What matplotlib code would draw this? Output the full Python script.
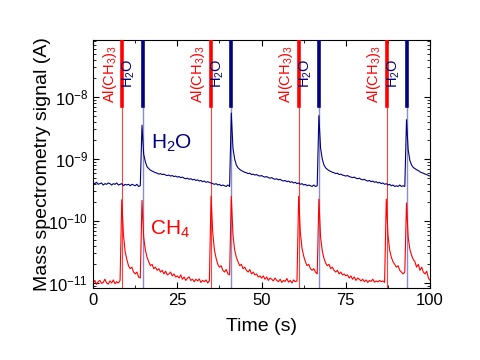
import numpy as np
import matplotlib
matplotlib.use("Agg")
import matplotlib.pyplot as plt
from matplotlib.ticker import MultipleLocator, LogLocator, NullFormatter

plt.rcParams['font.family'] = ['Liberation Sans', 'DejaVu Sans']
plt.rcParams['mathtext.fontset'] = 'custom'
plt.rcParams['mathtext.rm'] = 'Liberation Sans'
plt.rcParams['mathtext.it'] = 'Liberation Sans:italic'

# time grid, 0.5 s steps
time = np.arange(0, 100.5, 0.5)

# H2O signal (x 1e-10 A), one row = 5 s
h2o_signal = [
    4.1, 4.0, 4.2, 3.9, 4.0, 4.1, 3.8, 4.0, 3.9, 4.1,
    4.0, 3.8, 4.0, 3.9, 4.1, 3.8, 3.9, 4.0, 3.7, 3.9,
    3.8, 3.9, 3.7, 3.9, 3.8, 3.7, 3.9, 3.6, 3.7, 35,
    12, 9.0, 7.5, 7.0, 6.6, 6.4, 6.2, 6.0, 5.9, 5.7,
    5.8, 5.6, 5.7, 5.5, 5.4, 5.5, 5.3, 5.4, 5.2, 5.3,
    5.1, 5.2, 5.0, 5.1, 4.9, 4.8, 4.9, 4.7, 4.8, 4.6,
    4.7, 4.5, 4.6, 4.4, 4.5, 4.3, 4.4, 4.2, 4.3, 4.2,
    4.1, 4.0, 3.9, 4.0, 3.8, 3.9, 3.7, 3.8, 3.7, 3.6,
    3.8, 3.6, 55, 15, 10, 8.0, 7.2, 6.8, 6.5, 6.3,
    6.1, 6.0, 5.8, 5.9, 5.6, 5.7, 5.5, 5.6, 5.4, 5.3,
    5.4, 5.2, 5.1, 5.2, 5.0, 4.9, 5.0, 4.8, 4.7, 4.8,
    4.6, 4.7, 4.5, 4.4, 4.5, 4.3, 4.4, 4.2, 4.3, 4.1,
    4.2, 4.0, 4.1, 3.9, 4.0, 3.8, 3.9, 3.7, 3.8, 3.7,
    3.6, 3.8, 3.6, 3.7, 50, 15, 10, 8.0, 7.2, 6.8,
    6.5, 6.3, 6.1, 6.0, 5.8, 5.9, 5.6, 5.7, 5.5, 5.4,
    5.3, 5.4, 5.2, 5.1, 5.0, 5.1, 4.9, 4.8, 4.9, 4.7,
    4.6, 4.7, 4.5, 4.4, 4.5, 4.3, 4.4, 4.2, 4.3, 4.1,
    4.2, 4.0, 4.1, 3.9, 4.0, 3.8, 3.9, 3.7, 3.8, 3.6,
    3.7, 3.6, 3.8, 3.6, 3.7, 3.6, 43, 14, 9.5, 8.0,
    7.3, 7.0, 6.7, 6.5, 6.2, 6.0, 5.9, 5.7, 5.6, 5.4,
    5.3,
]

# CH4 signal (x 1e-12 A)
ch4_signal = [
    10, 11, 9.5, 10.5, 11, 9.8, 10.2, 11.5, 10, 9.6,
    10.8, 10, 11.2, 9.7, 10.5, 10, 11, 220, 60, 32,
    24, 19, 17, 18, 15, 14, 15, 12.5, 12, 215,
    55, 34, 26, 22, 19, 20, 17, 18, 16, 17,
    15, 16, 14, 15.5, 13.5, 14, 15, 13, 14, 12.5,
    13, 12, 13.5, 11.5, 12.5, 11, 12, 12.5, 11, 11.5,
    10.5, 11.5, 10.8, 11.6, 10.2, 11, 10.5, 11.2, 10, 10.8,
    250, 65, 34, 25, 20, 18, 19, 16, 15, 16.5,
    14, 13.5, 250, 60, 34, 26, 22, 19, 20, 17,
    18, 16, 15, 16.5, 14, 15, 13.5, 14, 12.5, 13,
    12, 13, 11.5, 12.5, 11, 12, 11.5, 10.8, 12, 11,
    10.5, 11.5, 10.2, 11, 10.6, 11.8, 10.3, 11, 10, 11.2,
    10.5, 10.8, 250, 65, 36, 27, 22, 19, 20, 17,
    16, 17, 15, 14, 225, 55, 33, 25, 21, 19,
    20, 17, 18, 16, 15, 16, 14, 15, 13.5, 14,
    13, 13.5, 12, 13, 11.5, 12.5, 11, 12, 11.5, 10.8,
    11.5, 10.5, 11.2, 10.2, 11, 10.6, 11.5, 10.3, 10.8, 10.4,
    11, 10.5, 10.8, 10.2, 225, 60, 34, 26, 22, 20,
    18, 19, 16, 15, 14, 15, 195, 55, 35, 28,
    24, 22, 18, 20, 16, 18, 15, 14, 15.5, 12,
    11,
]

# pulse times (s)
tma_pulses = [8.6, 34.9, 61.0, 87.1]
h2o_pulses = [14.7, 41.0, 67.0, 93.2]

red = '#ff0000'
navy = '#000080'

h2o = np.array(h2o_signal) * 1e-10
ch4 = np.array(ch4_signal) * 1e-12

fig = plt.figure(figsize=(4.8, 3.6), dpi=100)
ax = fig.add_axes([0.194, 0.2, 0.702, 0.689])
ax.set_yscale('log')

bar_start = 0.734  # fraction of axes height where the thick bars begin
for t in tma_pulses:
    ax.axvline(t, ymin=0, ymax=bar_start, color='#ff4040', lw=0.8, zorder=1)
    ax.axvline(t, ymin=bar_start, ymax=1, color=red, lw=2.6, zorder=3)
    ax.text(t - 3.7, 2.3e-8, r'Al(CH$_3$)$_3$', color=red, rotation=90,
            ha='center', va='center', fontsize=10.5)
for t in h2o_pulses:
    ax.axvline(t, ymin=0, ymax=bar_start, color='#8c8cc8', lw=1.0, zorder=1)
    ax.axvline(t, ymin=bar_start, ymax=1, color=navy, lw=2.6, zorder=3)
    ax.text(t - 4.0, 2.4e-8, r'H$_2$O', color=navy, rotation=90,
            ha='center', va='center', fontsize=10.5)

ax.plot(time, h2o, color=navy, lw=0.8, zorder=2)
ax.plot(time, ch4, color=red, lw=0.8, zorder=2)

ax.text(17.3, 1.8e-9, r'H$_2$O', color=navy, fontsize=15, ha='left', va='center')
ax.text(17.0, 7.2e-11, r'CH$_4$', color=red, fontsize=15, ha='left', va='center')

ax.set_xlim(0, 100)
ax.set_ylim(8.3e-12, 8.3e-8)
ax.xaxis.set_major_locator(MultipleLocator(25))
ax.xaxis.set_minor_locator(MultipleLocator(12.5))
ax.yaxis.set_major_locator(LogLocator(base=10, numticks=10))
ax.yaxis.set_minor_locator(LogLocator(base=10, subs=np.arange(2, 10), numticks=20))
ax.yaxis.set_minor_formatter(NullFormatter())
ax.tick_params(which='both', direction='in', top=True, right=True, labelsize=12)
ax.tick_params(which='major', length=4)
ax.tick_params(which='minor', length=2.5)

ax.set_xlabel('Time (s)', fontsize=14, labelpad=7)
ax.set_ylabel('Mass spectrometry signal (A)', fontsize=14, labelpad=-2)

fig.savefig('out.png', dpi=100)
